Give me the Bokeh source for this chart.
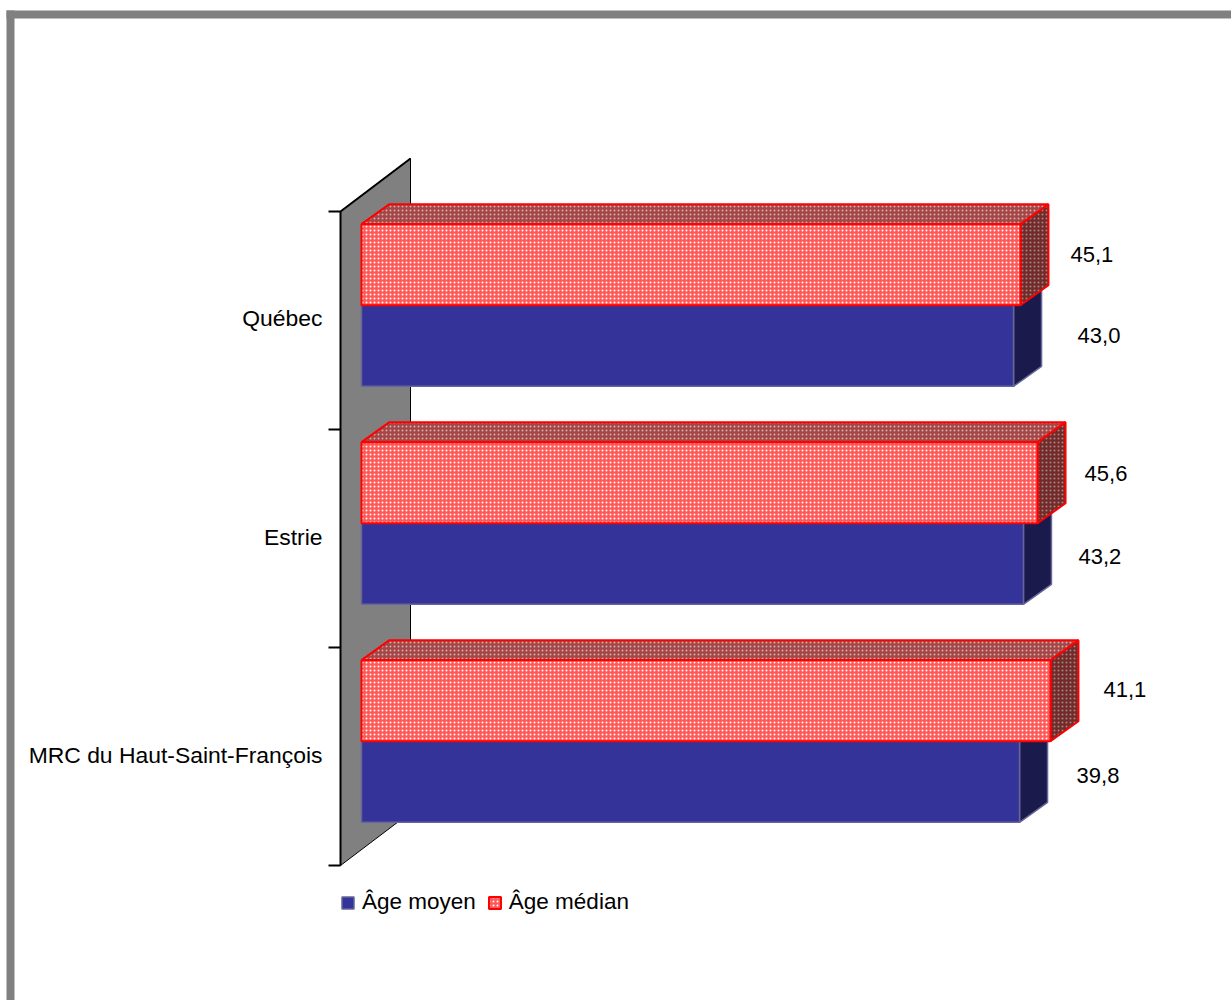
from bokeh.plotting import figure
from bokeh.core.properties import value
from bokeh.models import (ColumnDataSource, Range1d, LinearAxis, FixedTicker, BoxAnnotation,
                          Legend, LegendItem, LabelSet)
from bokeh.embed import file_html
from bokeh.resources import INLINE
import numpy as np

categories = ["Québec", "Estrie", "MRC du Haut-Saint-François"]
# printed labels
label_moyen = ["43,0", "43,2", "39,8"]
label_median = ["45,1", "45,6", "41,1"]
# bar lengths as drawn in the source (they do not follow one scale with the printed labels)
bar_moyen = [43.47, 44.13, 43.87]
bar_median = [43.93, 45.07, 45.93]

FONT = "Liberation Sans"
PX_X, PX_Y = 15.0, 218.0       # pixels per unit on each scale
X0, Y0 = 361, 865              # pixel of value 0 on each scale
W, H = 1231, 1000
centers = np.array([2.5, 1.5, 0.5])
DX, DY = 28 / PX_X, 20 / PX_Y  # 3-D depth of bars
BAR_H = 0.372
SPLIT = 0.07
WALL_X = (340 - X0) / PX_X
WALL_DX, WALL_DY = 70 / PX_X, 53 / PX_Y

p = figure(width=W, height=H, output_backend="svg", toolbar_location=None,
           x_axis_location=None, y_axis_location=None, min_border=0,
           x_range=Range1d(-X0 / PX_X, (W - X0) / PX_X),
           y_range=Range1d((Y0 - H) / PX_Y, Y0 / PX_Y))
p.styles = {"position": "absolute", "left": "0px", "top": "0px"}
p.grid.visible = False
p.outline_line_color = None
p.background_fill_color = "white"
p.border_fill_color = "white"

# page frame (screen units count from the bottom for annotations)
for box in [dict(left=6, right=W, top=H - 10, bottom=H - 18), dict(left=6, right=14, top=H - 10, bottom=0)]:
    p.add_layout(BoxAnnotation(left_units="screen", right_units="screen", top_units="screen",
                               bottom_units="screen", fill_color="#808080", fill_alpha=1,
                               line_color=None, level="underlay", **box))

# back wall
wx = [WALL_X, WALL_X + WALL_DX, WALL_X + WALL_DX, WALL_X]
wy = [3, 3 + WALL_DY, WALL_DY, 0]
p.patch(wx, wy, fill_color="#808080", line_color="black", line_width=1)
p.line(wx[:2], wy[:2], line_color="black", line_width=2)

# axis: labels on the major ticks, the drawn ticks are the minor ones at the group limits
label_ticks = [float(c + d) for c, d in zip(centers, [0.01, 0.005, 0.005])]
ax = LinearAxis(fixed_location=WALL_X, bounds=(0, 3),
                ticker=FixedTicker(ticks=label_ticks, minor_ticks=[0, 1, 2, 3]),
                major_label_overrides=dict(zip(label_ticks, categories)),
                major_tick_line_color=None, major_tick_in=0, major_tick_out=0,
                minor_tick_in=0, minor_tick_out=12, minor_tick_line_color="black",
                minor_tick_line_width=2, axis_line_color="black", axis_line_width=2,
                major_label_standoff=6, major_label_text_font=FONT,
                major_label_text_font_size="22.9px", major_label_text_color="black")
p.add_layout(ax, "left")


def bars(vals, low, high, fill, line, lw, dark_fill, dark_hatch, top_fill, top_hatch, hatch=None):
    vals = np.array(vals)
    common = dict(hatch_pattern=hatch, hatch_scale=4, hatch_weight=1.2) if hatch else {}
    sides_x = [[v, v + DX, v + DX, v] for v in vals]
    sides_y = [[h, h + DY, l + DY, l] for h, l in zip(high, low)]
    p.patches(sides_x, sides_y, fill_color=dark_fill, line_color=line, line_width=lw,
              **(dict(hatch_color=dark_hatch, **common) if hatch else {}))
    if top_fill:
        tops_x = [[0, DX, v + DX, v] for v in vals]
        tops_y = [[h, h + DY, h + DY, h] for h in high]
        p.patches(tops_x, tops_y, fill_color=top_fill, line_color=line, line_width=lw,
                  **(dict(hatch_color=top_hatch, **common) if hatch else {}))
    return p.quad(left=0, right=vals, bottom=low, top=high, fill_color=fill,
                  line_color=line, line_width=lw,
                  **(dict(hatch_color="white", **common) if hatch else {}))


low_m, mid, high_m = centers + SPLIT - BAR_H, centers + SPLIT, centers + SPLIT + BAR_H
r_moyen = bars(bar_moyen, low_m, mid, "#333399", "#666699", 1.5, "#1a1a4d", None, None, None)
r_median = bars(bar_median, mid, high_m, "#ff5a5a", "#ff0000", 2, "#752a2a", "#a08585", "#a54545", "#d0b0b0", hatch="dot")

# value labels
gap_moyen = [36, 27, 29]
gap_median = [22, 19, 25]
lift_moyen = [10, 7, 6]
lift_median = [10, 9, 11]
src = ColumnDataSource(dict(
    x=list(np.array(bar_moyen) + DX + np.array(gap_moyen) / PX_X) + list(np.array(bar_median) + DX + np.array(gap_median) / PX_X),
    y=list((low_m + mid) / 2 + np.array(lift_moyen) / PX_Y) + list((mid + high_m) / 2 + np.array(lift_median) / PX_Y),
    t=label_moyen + label_median))
p.add_layout(LabelSet(x="x", y="y", text="t", source=src, text_font=value(FONT), text_font_size="22px",
                      text_color="black", text_align="left", text_baseline="middle"))

legend = Legend(items=[LegendItem(label="Âge moyen", renderers=[r_moyen]),
                       LegendItem(label="Âge médian", renderers=[r_median])],
                orientation="horizontal", location=(340, 85), glyph_width=15, glyph_height=15,
                label_standoff=7, spacing=11, padding=0, margin=0, border_line_color=None,
                background_fill_alpha=0, label_text_font=FONT, label_text_font_size="22.5px",
                label_text_color="black", label_height=15)
p.add_layout(legend)

open("out.html", "w").write(file_html(p, INLINE))
